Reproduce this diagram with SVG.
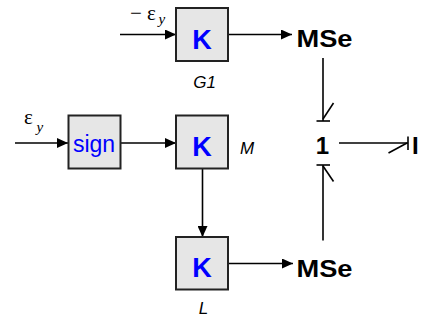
<svg xmlns="http://www.w3.org/2000/svg" width="425" height="324" viewBox="0 0 425 324">
<style>
.box{fill:#e6e6e6;stroke:#222;stroke-width:2}
.k{font-family:"Liberation Sans",Arial,sans-serif;font-weight:bold;font-size:27px;fill:#0000ff}
.sg{font-family:"Liberation Sans",Arial,sans-serif;font-size:23px;fill:#0000ff}
.bg{font-family:"Liberation Sans",Arial,sans-serif;font-weight:bold;font-size:24px;fill:#000}
.it{font-family:"Liberation Sans",Arial,sans-serif;font-style:italic;font-size:17px;fill:#000}
.gr{font-family:"Liberation Serif","Times New Roman",serif;font-size:21px;fill:#000}
.sub{font-family:"Liberation Serif","Times New Roman",serif;font-style:italic;font-size:15px;fill:#000}
.ln{stroke:#000;stroke-width:1.6;fill:none}
</style>
<defs>
<marker id="ah" markerWidth="12" markerHeight="10" refX="11" refY="5" orient="auto" markerUnits="userSpaceOnUse">
<path d="M0,0 L11,5 L0,10 Z" fill="#000"/>
</marker>
</defs>
<g id="connectors">
<line class="ln" x1="120" y1="34.5" x2="176" y2="34.5" marker-end="url(#ah)"/>
<line class="ln" x1="228" y1="34.5" x2="292" y2="34.5" marker-end="url(#ah)"/>
<line class="ln" x1="15" y1="143" x2="68" y2="143" marker-end="url(#ah)"/>
<line class="ln" x1="121" y1="143" x2="176" y2="143" marker-end="url(#ah)"/>
<line class="ln" x1="202.5" y1="168" x2="202.5" y2="237" marker-end="url(#ah)"/>
<line class="ln" x1="228" y1="263.5" x2="293" y2="263.5" marker-end="url(#ah)"/>
<g id="bond-top">
<line class="ln" x1="323" y1="58" x2="323" y2="121"/>
<line class="ln" x1="316.5" y1="121" x2="330" y2="121"/>
<line class="ln" x1="323" y1="119" x2="333.5" y2="103"/>
</g>
<g id="bond-right">
<line class="ln" x1="339" y1="143" x2="408" y2="143"/>
<line class="ln" x1="408" y1="136.5" x2="408" y2="150"/>
<line class="ln" x1="407" y1="143" x2="388.5" y2="153"/>
</g>
<g id="bond-bottom">
<line class="ln" x1="323" y1="240.5" x2="323" y2="165"/>
<line class="ln" x1="316.5" y1="165" x2="330" y2="165"/>
<line class="ln" x1="323" y1="166" x2="333.5" y2="181.5"/>
</g>
</g>
<g id="in-top">
<text class="gr" x="130" y="19.5">− ε</text>
<text class="sub" x="158.5" y="24">y</text>
</g>
<g id="in-left">
<text class="gr" x="24" y="123.5">ε</text>
<text class="sub" x="36.5" y="131.5">y</text>
</g>
<g id="G1">
<rect class="box" x="176" y="8" width="52" height="53"/>
<text class="k" x="202" y="48.5" text-anchor="middle">K</text>
<text class="it" x="204.5" y="88" text-anchor="middle">G1</text>
</g>
<g id="sign">
<rect class="box" x="68.5" y="115.5" width="52" height="53"/>
<text class="sg" x="94" y="152" text-anchor="middle">sign</text>
</g>
<g id="M">
<rect class="box" x="176" y="115.5" width="52" height="53"/>
<text class="k" x="202" y="156" text-anchor="middle">K</text>
<text class="it" x="240" y="153.5">M</text>
</g>
<g id="L">
<rect class="box" x="176" y="237" width="52" height="52.5"/>
<text class="k" x="202" y="277" text-anchor="middle">K</text>
<text class="it" x="203.5" y="314" text-anchor="middle">L</text>
</g>
<g id="MSe-top">
<text class="bg" x="296.5" y="46.5" textLength="56" lengthAdjust="spacingAndGlyphs">MSe</text>
</g>
<g id="MSe-bottom">
<text class="bg" x="296.5" y="277" textLength="56" lengthAdjust="spacingAndGlyphs">MSe</text>
</g>
<g id="one">
<text class="bg" x="322.5" y="154" text-anchor="middle">1</text>
</g>
<g id="I">
<text class="bg" x="412" y="154">I</text>
</g>
</svg>
